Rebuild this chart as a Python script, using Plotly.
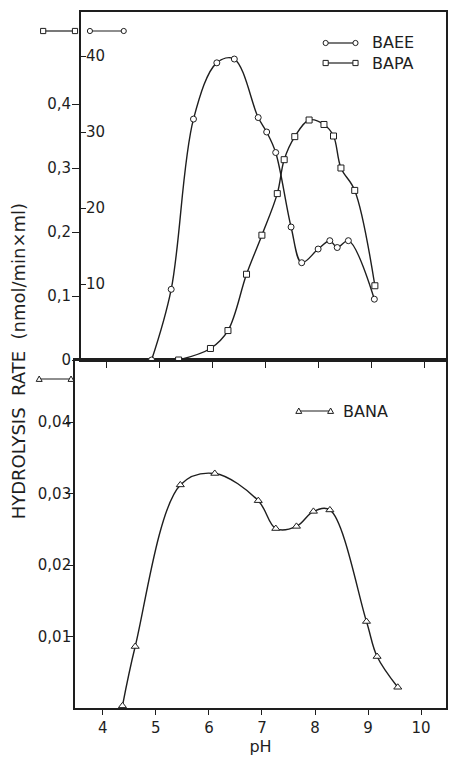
import plotly.graph_objects as go

# ---- data ----
baee_ph = [4.85, 5.22, 5.64, 6.08, 6.41, 6.86, 7.02, 7.19, 7.48, 7.68, 7.99, 8.21, 8.35, 8.56, 9.05]
baee_rate = [0.0, 9.3, 31.7, 39.1, 39.6, 31.9, 30.0, 27.3, 17.5, 12.8, 14.6, 15.7, 14.8, 15.7, 8.0]

bapa_ph = [5.36, 5.96, 6.29, 6.64, 6.93, 7.22, 7.35, 7.55, 7.82, 8.10, 8.28, 8.42, 8.68, 9.06]
bapa_rate = [0.0, 0.018, 0.046, 0.134, 0.195, 0.26, 0.313, 0.349, 0.375, 0.368, 0.35, 0.30, 0.265, 0.116]

bana_ph = [4.37, 4.61, 5.46, 6.11, 6.93, 7.26, 7.65, 7.97, 8.28, 8.97, 9.17, 9.56]
bana_rate = [0.0003, 0.0086, 0.0312, 0.0328, 0.029, 0.0251, 0.0254, 0.0275, 0.0277, 0.0121, 0.0072, 0.0029]

ph_ticks = [4, 5, 6, 7, 8, 9, 10]
bapa_ticks = [0, 0.1, 0.2, 0.3, 0.4]
bapa_ticktext = ["0", "0,1", "0,2", "0,3", "0,4"]
baee_ticks = [10, 20, 30, 40]
bana_ticks = [0.01, 0.02, 0.03, 0.04]
bana_ticktext = ["0,01", "0,02", "0,03", "0,04"]

# ---- geometry helpers (pixel -> paper) ----
W_IMG, H_IMG = 449, 757
L, R, T, B = 75, 448, 12, 708
PW, PH = R - L, B - T


def xp(px):
    return (px - L) / PW


def yp(py):
    return (B - py) / PH


INK = "#1e1e1e"
FONT = "DejaVu Sans"

fig = go.Figure()

line_style = dict(color=INK, width=1.4, shape="spline", smoothing=1.0)

fig.add_trace(go.Scatter(
    x=baee_ph, y=baee_rate, xaxis="x2", yaxis="y3", mode="lines+markers",
    line=line_style, name="BAEE",
    marker=dict(symbol="circle", size=6, color="white", line=dict(color=INK, width=1)),
))
fig.add_trace(go.Scatter(
    x=bapa_ph, y=bapa_rate, xaxis="x2", yaxis="y2", mode="lines+markers",
    line=line_style, name="BAPA",
    marker=dict(symbol="square", size=6, color="white", line=dict(color=INK, width=1)),
))
fig.add_trace(go.Scatter(
    x=bana_ph, y=bana_rate, xaxis="x", yaxis="y", mode="lines+markers",
    line=line_style, name="BANA",
    marker=dict(symbol="triangle-up", size=7, color="white", line=dict(color=INK, width=1)),
))

axis_common = dict(showgrid=False, zeroline=False, linecolor=INK, linewidth=1.6,
                   tickcolor=INK, tickwidth=1.3, showline=True,
                   tickfont=dict(family=FONT, size=15, color=INK))

top_x0 = 3.519
fig.update_layout(
    width=W_IMG, height=H_IMG,
    margin=dict(l=L, r=W_IMG - R, t=T, b=H_IMG - B),
    paper_bgcolor="white", plot_bgcolor="white",
    showlegend=False,
    font=dict(family=FONT, color=INK),
    xaxis=dict(**axis_common, domain=[0, 1], range=[3.475, 3.475 + PW / 53.33],
               tickvals=ph_ticks, ticks="outside", ticklen=5, mirror=True, anchor="y",
               title=dict(text="pH", font=dict(family=FONT, size=16, color=INK), standoff=5)),
    yaxis=dict(**axis_common, domain=[0, 0.5], range=[0, 348 / 7150], anchor="x",
               tickvals=bana_ticks, ticktext=bana_ticktext, ticks="outside", ticklen=7,
               ticklabelstandoff=-8, mirror=True),
    xaxis2=dict(**axis_common, domain=[xp(81), 1], range=[top_x0, top_x0 + (R - 81) / 53.33],
                tickvals=ph_ticks, ticks="outside", ticklen=6, showticklabels=False,
                mirror=True, anchor="y2"),
    yaxis2=dict(**axis_common, domain=[0.5, 1], range=[0, 348 / 640], anchor="x2",
                tickvals=bapa_ticks, ticktext=bapa_ticktext, ticks="outside", ticklen=7,
                ticklabelstandoff=-2, mirror=True),
    yaxis3=dict(showgrid=False, zeroline=False, showline=False, overlaying="y2",
                anchor="x2", side="left", range=[0, 348 / 7.6], tickvals=baee_ticks,
                ticks="inside", ticklen=5, tickcolor=INK, tickwidth=1.3,
                ticklabelposition="inside",
                tickfont=dict(family=FONT, size=15, color=INK)),
)

# ---- keys and legend glyphs (decorations) ----
shapes = []
annotations = []


def seg(x0, x1, y):
    shapes.append(dict(type="line", xref="paper", yref="paper", x0=xp(x0), x1=xp(x1),
                       y0=yp(y), y1=yp(y), line=dict(color=INK, width=1.2)))


def circ(x, y, r=2.6):
    shapes.append(dict(type="circle", xref="paper", yref="paper", x0=xp(x - r), x1=xp(x + r),
                       y0=yp(y + r), y1=yp(y - r), line=dict(color=INK, width=1),
                       fillcolor="white"))


def sq(x, y, r=2.6):
    shapes.append(dict(type="rect", xref="paper", yref="paper", x0=xp(x - r), x1=xp(x + r),
                       y0=yp(y + r), y1=yp(y - r), line=dict(color=INK, width=1),
                       fillcolor="white"))


def tri(x, y, r=3.0):
    path = "M {a},{b} L {c},{d} L {e},{f} Z".format(
        a=xp(x - r), b=yp(y + r * 0.8), c=xp(x + r), d=yp(y + r * 0.8), e=xp(x), f=yp(y - r))
    shapes.append(dict(type="path", xref="paper", yref="paper", path=path,
                       line=dict(color=INK, width=1), fillcolor="white"))


def key(kind, xa, xb, y):
    seg(xa, xb, y)
    kind(xa, y)
    kind(xb, y)


def label(text, x, y):
    annotations.append(dict(text=text, xref="paper", yref="paper", x=xp(x), y=yp(y),
                            xanchor="left", yanchor="middle", showarrow=False,
                            font=dict(family=FONT, size=16, color=INK)))


# axis keys
key(sq, 43, 75, 31)
key(circ, 90, 124, 31)
key(tri, 39, 71, 379)

# legends
key(circ, 327, 357, 43)
label("BAEE", 372, 43)
key(sq, 327, 357, 63)
label("BAPA", 372, 63)
key(tri, 300, 332, 411)
label("BANA", 342, 411)

annotations.append(dict(text="HYDROLYSIS  RATE  (nmol/min×ml)", xref="paper", yref="paper",
                        x=xp(19), y=yp(361), xanchor="center", yanchor="middle",
                        textangle=-90, showarrow=False,
                        font=dict(family=FONT, size=18, color=INK)))

fig.update_layout(shapes=shapes, annotations=annotations)

fig.write_html("out.html", config={"displayModeBar": False},
               post_script="document.body.style.margin='0';")
